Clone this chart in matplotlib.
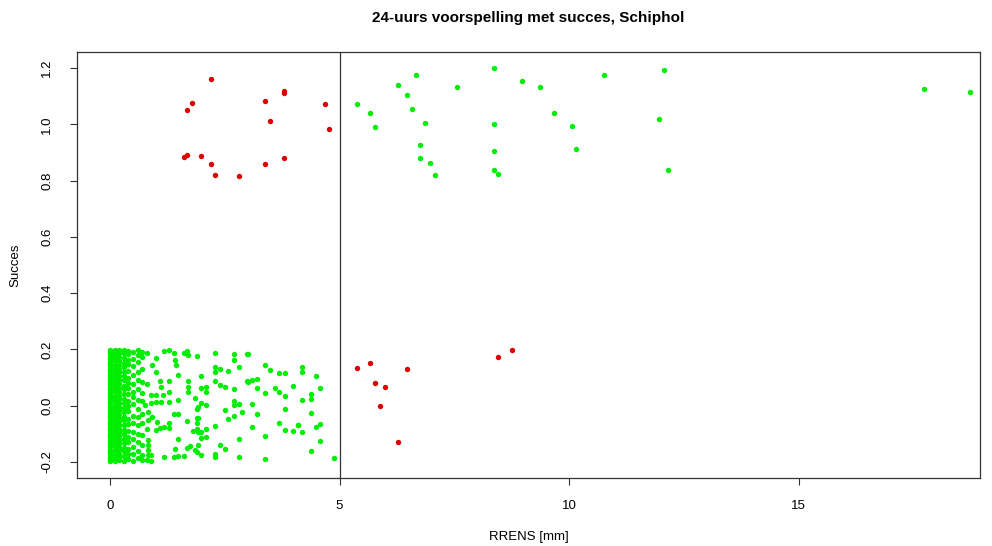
import matplotlib
matplotlib.use("Agg")
import matplotlib.pyplot as plt
import numpy as np

plt.rcParams['font.family'] = ['Liberation Sans', 'DejaVu Sans']

title = "24-uurs voorspelling met succes, Schiphol"
xlabel = "RRENS [mm]"
ylabel = "Succes"
xticks = [0, 5, 10, 15]
yticks = [-0.2, 0.0, 0.2, 0.4, 0.6, 0.8, 1.0, 1.2]
ytick_labels = ["-0.2", "0.0", "0.2", "0.4", "0.6", "0.8", "1.0", "1.2"]
threshold = 5

# red points: wrong forecasts
red_x = [2.20, 1.79, 1.68, 3.38, 3.78, 3.78, 3.49, 4.68, 4.77, 1.60, 1.68, 1.98,
         2.20, 2.29, 2.80, 3.38, 3.78,
         5.37, 5.67, 5.78, 5.98, 5.88, 6.47, 6.27, 8.46, 8.76]
red_y = [1.160, 1.076, 1.052, 1.082, 1.117, 1.110, 1.010, 1.073, 0.983, 0.885, 0.890, 0.887,
         0.858, 0.821, 0.815, 0.858, 0.882,
         0.135, 0.152, 0.082, 0.068, -0.001, 0.129, -0.129, 0.173, 0.199]

# green points (upper cluster): correct forecasts of rain
green_up_x = [5.37, 5.67, 5.78, 6.27, 6.67, 6.47, 6.57, 6.87, 6.76, 6.76, 6.98, 7.07,
              7.56, 8.37, 8.37, 8.37, 8.37, 8.46, 8.97, 9.36, 9.66, 10.07, 10.15,
              10.76, 12.06, 11.96, 12.15, 17.73, 18.73]
green_up_y = [1.073, 1.041, 0.992, 1.139, 1.177, 1.105, 1.055, 1.004, 0.927, 0.880, 0.864, 0.820,
              1.131, 1.200, 1.000, 0.905, 0.838, 0.824, 1.154, 1.134, 1.041, 0.995, 0.911,
              1.174, 1.192, 1.018, 0.836, 1.125, 1.114]

# green points (lower cluster), dense columns near zero
col00_y = [-0.197, -0.190, -0.183, -0.173, -0.165, -0.156, -0.148, -0.138, -0.131, -0.121,
           -0.112, -0.105, -0.096, -0.087, -0.080, -0.070, -0.063, -0.053, -0.045, -0.037,
           -0.028, -0.021, -0.011, -0.004, 0.006, 0.013, 0.023, 0.030, 0.039, 0.046,
           0.056, 0.063, 0.073, 0.080, 0.090, 0.097, 0.107, 0.114, 0.124, 0.131,
           0.140, 0.149, 0.157, 0.166, 0.174, 0.183, 0.191, 0.199]
col01_y = [-0.195, -0.186, -0.176, -0.166, -0.157, -0.145, -0.136, -0.125, -0.116, -0.104,
           -0.093, -0.084, -0.073, -0.062, -0.051, -0.041, -0.030, -0.018, -0.008, 0.003,
           0.015, 0.026, 0.036, 0.047, 0.058, 0.069, 0.080, 0.091, 0.103, 0.113,
           0.124, 0.135, 0.146, 0.158, 0.168, 0.179, 0.189, 0.197]
col02_y = [-0.193, -0.182, -0.170, -0.159, -0.146, -0.133, -0.121, -0.108, -0.095, -0.083,
           -0.068, -0.056, -0.043, -0.031, -0.017, -0.004, 0.009, 0.022, 0.036, 0.049,
           0.063, 0.076, 0.090, 0.104, 0.118, 0.131, 0.145, 0.159, 0.173, 0.188, 0.198]
col03_y = [-0.195, -0.180, -0.162, -0.150, -0.131, -0.118, -0.100, -0.085, -0.070, -0.052,
           -0.040, -0.021, -0.008, 0.010, 0.025, 0.043, 0.058, 0.070, 0.090, 0.105,
           0.120, 0.138, 0.152, 0.170, 0.186, 0.197]
col04_y = [-0.190, -0.172, -0.155, -0.128, -0.110, -0.090, -0.066, -0.048, -0.020, 0.000,
           0.018, 0.040, 0.062, 0.080, 0.100, 0.125, 0.148, 0.163, 0.182, 0.195]
col05_y = [-0.196, -0.170, -0.148, -0.120, -0.095, -0.060, -0.035, 0.005, 0.030, 0.050,
           0.078, 0.110, 0.140, 0.165, 0.190]
col06_y = [-0.185, -0.160, -0.130, -0.100, -0.070, -0.040, -0.012, 0.020, 0.058, 0.090,
           0.120, 0.155, 0.180, 0.198]
col07_y = [-0.192, -0.175, -0.140, -0.105, -0.060, -0.030, 0.015, 0.045, 0.085, 0.130,
           0.172, 0.192]
col_x = [0.0, 0.1, 0.2, 0.3, 0.4, 0.5, 0.6, 0.7]

# green points (lower cluster), scattered part
green_lo_x = [0.80, 0.91, 1.00, 1.00, 1.18, 1.29, 1.40, 1.43, 1.42, 1.49, 1.60, 1.68, 1.70, 1.89,
              1.29, 1.09, 1.10, 0.80, 1.29, 1.16, 1.00, 0.89, 1.11, 1.00, 0.89, 1.29, 1.49,
              1.69, 1.69, 1.69, 1.86, 1.92, 0.76, 0.82, 0.82, 1.02, 0.91, 1.40, 1.49, 1.67,
              1.92, 0.80, 1.00, 1.09, 1.18, 1.29, 1.29, 1.81, 1.92, 0.82, 0.82, 0.82, 0.82,
              0.89, 0.89, 0.80, 1.47, 1.42, 1.40, 1.49, 1.60, 1.18, 1.67, 1.74, 1.86, 1.92,
              2.29, 2.69, 2.98, 2.69, 2.29, 2.29, 2.40, 2.58, 2.80, 1.98, 1.98, 2.08, 2.09,
              2.29, 2.40, 2.51, 2.69, 2.98, 1.98, 2.09, 1.89, 2.69, 2.69, 2.80, 2.51, 2.87,
              1.89, 1.89, 1.89, 2.58, 2.69, 1.98, 1.98, 2.09, 2.09, 2.29, 2.80, 2.40, 2.51,
              1.89, 1.98, 2.29, 2.29, 2.80,
              3.00, 3.38, 3.49, 3.68, 3.80, 3.00, 3.09, 3.20, 3.20, 3.38, 3.59, 3.68, 3.80,
              3.98, 3.09, 3.20, 3.80, 3.09, 3.68, 3.80, 3.98, 4.09, 3.38, 3.38,
              4.19, 4.19, 4.49, 4.58, 4.19, 4.38, 4.38, 4.38, 4.09, 4.19, 4.49, 4.58, 4.58,
              4.38, 4.88]
green_lo_y = [0.189, 0.143, 0.169, 0.121, 0.195, 0.198, 0.186, 0.145, 0.163, 0.110, 0.186, 0.193,
              0.181, 0.175, 0.088, 0.088, 0.068, 0.076, 0.050, 0.038, 0.038, 0.038, 0.014,
              0.012, 0.008, 0.014, 0.020, 0.086, 0.068, 0.050, 0.026, -0.004, 0.002, -0.024,
              -0.051, -0.057, -0.039, -0.031, -0.028, -0.054, -0.045, -0.083, -0.087, -0.079,
              -0.075, -0.063, -0.079, -0.091, -0.093, -0.123, -0.140, -0.158, -0.176, -0.176,
              -0.198, -0.194, -0.117, -0.155, -0.182, -0.180, -0.180, -0.182, -0.152, -0.143,
              -0.158, -0.140,
              0.187, 0.183, 0.183, 0.163, 0.139, 0.119, 0.130, 0.124, 0.136, 0.104, 0.062,
              0.068, 0.050, 0.088, 0.074, 0.068, 0.060, 0.088, 0.008, 0.002, -0.010, 0.017,
              0.002, 0.005, -0.015, -0.024, -0.045, -0.063, -0.083, -0.047, -0.036, -0.095,
              -0.114, -0.083, -0.111, -0.071, -0.119, -0.138, -0.155, -0.164, -0.176, -0.170,
              -0.182, -0.182,
              0.183, 0.145, 0.127, 0.115, 0.115, 0.083, 0.092, 0.095, 0.064, 0.044, 0.062,
              0.048, 0.036, 0.071, 0.005, -0.028, -0.013, -0.075, -0.063, -0.087, -0.091,
              -0.067, -0.107, -0.190,
              0.136, 0.119, 0.105, 0.062, 0.020, 0.040, 0.024, -0.025, -0.067, -0.095,
              -0.075, -0.065, -0.126, -0.162, -0.186]

GREEN = "#00EE00"
RED = "#E00000"
S = 15

fig = plt.figure(figsize=(9.92, 5.46), dpi=100)
ax = fig.add_axes([77 / 992, 1 - 478 / 546, (980 - 77) / 992, (478 - 52) / 546])

cols_y = [col00_y, col01_y, col02_y, col03_y, col04_y, col05_y, col06_y, col07_y]
for cx, cy in zip(col_x, cols_y):
    ax.scatter([cx] * len(cy), cy, s=S, color=GREEN, linewidths=0, zorder=3)
ax.scatter(green_lo_x, green_lo_y, s=S, color=GREEN, linewidths=0, zorder=3)
ax.scatter(green_up_x, green_up_y, s=S, color=GREEN, linewidths=0, zorder=3)
ax.scatter(red_x, red_y, s=S, color=RED, linewidths=0, zorder=4)

ax.axvline(threshold, color="#333333", lw=0.9, zorder=2)

ax.set_xlim(-0.72, 18.95)
ax.set_ylim(-0.257, 1.257)
ax.set_xticks(xticks)
ax.set_xticklabels([str(t) for t in xticks], fontsize=9.5)
ax.set_yticks(yticks)
ax.set_yticklabels(ytick_labels, fontsize=9.5, rotation=90, va="center")
ax.tick_params(axis="x", direction="out", length=5, width=0.8, color="#333333", pad=11)
ax.tick_params(axis="y", direction="out", length=5, width=0.8, color="#333333", pad=12)
for sp in ax.spines.values():
    sp.set_color("#333333")
    sp.set_linewidth(0.9)

fig.text(0.5 * (77 + 980) / 992, 1 - 537 / 546, xlabel, ha="center", va="center", fontsize=9.5)
fig.text(15 / 992, 1 - 265 / 546, ylabel, ha="center", va="center", rotation=90, fontsize=9.5)
fig.text(0.5 * (77 + 980) / 992, 1 - 18 / 546, title, ha="center", va="center",
         fontsize=11, fontweight="bold")

fig.savefig("out.png", dpi=100)
